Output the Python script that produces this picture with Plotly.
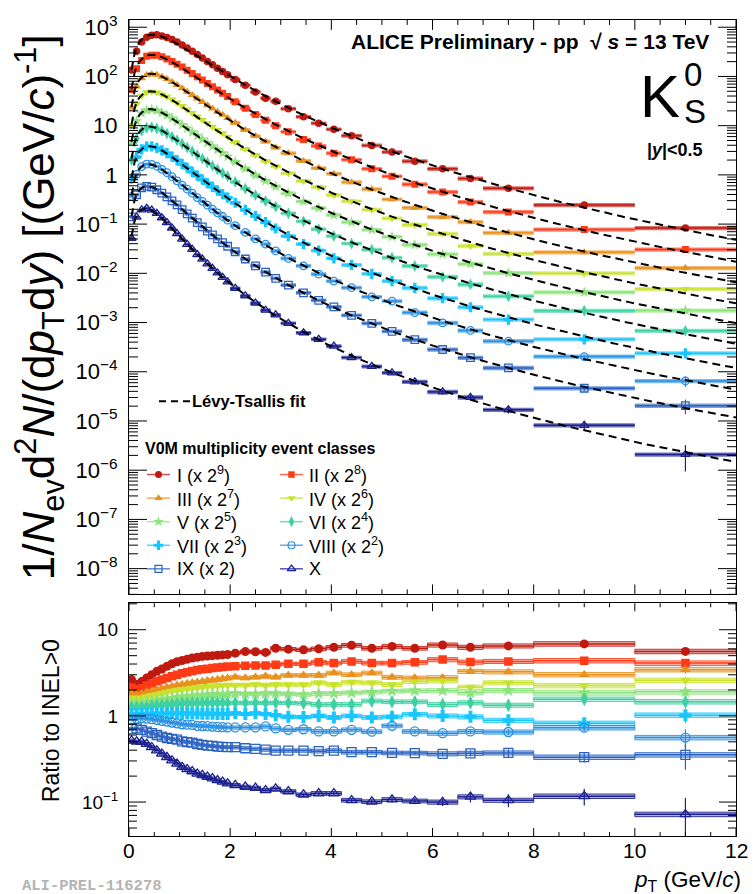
import numpy as np
import plotly.graph_objects as go

# ---------------- data ----------------
pt_edges = [0.0, 0.1, 0.2, 0.3, 0.4, 0.5, 0.6, 0.7, 0.8, 0.9, 1.0, 1.1, 1.2, 1.3, 1.4,
            1.5, 1.6, 1.7, 1.8, 1.9, 2.0, 2.2, 2.4, 2.6, 2.8, 3.0, 3.3, 3.6, 3.9, 4.2,
            4.6, 5.0, 5.4, 5.9, 6.5, 7.0, 8.0, 10.0, 12.0]

# INEL>0 reference spectrum, 1/Nev d2N/(dpT dy)  [(GeV/c)^-1]
inel_ref = [0.100, 0.276, 0.393, 0.445, 0.446, 0.416, 0.371, 0.322, 0.274, 0.231,
            0.194, 0.162, 0.135, 0.113, 0.0949, 0.0797, 0.0672, 0.0568, 0.0482, 0.0410,
            0.0317, 0.0232, 0.0171, 0.0130, 0.00998, 0.00728, 0.00508, 0.00363, 0.00263,
            0.00185, 0.00127, 0.000890, 0.000605, 0.000390, 0.000262, 0.000161, 6.96e-5, 2.90e-5]

# ratios of each V0M class to INEL>0
ratio_I = [2.64, 2.31, 2.50, 2.76, 3.01, 3.29, 3.50, 3.76, 4.03, 4.25, 4.40, 4.55, 4.70,
           4.80, 4.90, 4.95, 5.00, 5.05, 5.10, 5.15, 5.35, 5.58, 5.55, 5.45, 6.10, 5.95,
           5.84, 6.00, 6.26, 6.60, 6.10, 6.40, 6.10, 6.65, 6.26, 6.49, 6.85, 5.60]
ratio_II = [2.12, 2.03, 2.10, 2.25, 2.37, 2.53, 2.64, 2.76, 2.88, 3.00, 3.12, 3.22, 3.32,
            3.40, 3.47, 3.53, 3.60, 3.65, 3.70, 3.74, 3.76, 3.82, 3.85, 3.85, 3.92, 4.03,
            4.03, 4.18, 4.10, 4.29, 4.10, 4.10, 4.18, 4.50, 4.21, 4.29, 4.37, 4.10]
ratio_III = [1.82, 1.77, 1.82, 1.89, 1.94, 2.03, 2.08, 2.15, 2.20, 2.27, 2.31, 2.37, 2.42,
             2.46, 2.50, 2.55, 2.59, 2.64, 2.69, 2.74, 2.81, 2.76, 2.81, 2.88, 2.81, 2.96,
             2.96, 2.96, 3.15, 3.01, 3.15, 2.81, 2.76, 2.78, 3.29, 3.25, 3.01, 3.44]
ratio_IV = [1.62, 1.58, 1.62, 1.67, 1.73, 1.77, 1.82, 1.89, 1.94, 1.99, 2.03, 2.06, 2.10,
            2.13, 2.17, 2.20, 2.22, 2.25, 2.27, 2.28, 2.27, 2.27, 2.31, 2.27, 2.31, 2.31,
            2.31, 2.42, 2.31, 2.46, 2.42, 2.31, 2.50, 2.55, 2.15, 2.42, 2.25, 2.59]
ratio_V = [1.42, 1.40, 1.42, 1.45, 1.49, 1.53, 1.55, 1.58, 1.61, 1.64, 1.67, 1.70, 1.71,
           1.73, 1.74, 1.76, 1.77, 1.79, 1.79, 1.80, 1.82, 1.80, 1.80, 1.82, 1.82, 1.80,
           1.77, 1.82, 1.82, 1.85, 1.89, 1.94, 1.96, 1.96, 1.85, 1.97, 1.85, 1.90]
ratio_VI = [1.25, 1.25, 1.26, 1.27, 1.30, 1.32, 1.33, 1.35, 1.36, 1.37, 1.39, 1.39, 1.40,
            1.40, 1.41, 1.41, 1.42, 1.42, 1.42, 1.42, 1.42, 1.42, 1.42, 1.42, 1.42, 1.42,
            1.40, 1.36, 1.36, 1.36, 1.49, 1.46, 1.46, 1.36, 1.42, 1.33, 1.56, 1.46]
ratio_VII = [1.045, 1.045, 1.05, 1.06, 1.06, 1.065, 1.065, 1.07, 1.07, 1.07, 1.07, 1.07,
             1.065, 1.065, 1.06, 1.06, 1.06, 1.055, 1.05, 1.05, 1.07, 1.05, 1.07, 1.05,
             1.02, 0.98, 0.97, 1.00, 0.96, 1.00, 0.96, 0.975, 1.045, 1.00, 0.975, 0.89,
             0.82, 1.02]
ratio_VIII = [0.916, 0.932, 0.940, 0.932, 0.916, 0.900, 0.876, 0.860, 0.838, 0.820, 0.800,
              0.790, 0.786, 0.767, 0.763, 0.760, 0.752, 0.745, 0.740, 0.734, 0.734, 0.734,
              0.734, 0.754, 0.715, 0.690, 0.700, 0.661, 0.661, 0.690, 0.656, 0.767, 0.660,
              0.630, 0.660, 0.650, 0.730, 0.560]
ratio_IX = [0.703, 0.715, 0.690, 0.656, 0.632, 0.600, 0.576, 0.554, 0.540, 0.530, 0.507,
            0.497, 0.490, 0.472, 0.462, 0.452, 0.448, 0.440, 0.436, 0.433, 0.433, 0.421,
            0.415, 0.407, 0.396, 0.396, 0.396, 0.390, 0.396, 0.379, 0.379, 0.372, 0.370,
            0.363, 0.368, 0.372, 0.332, 0.353]
ratio_X = [0.516, 0.503, 0.497, 0.472, 0.433, 0.396, 0.363, 0.332, 0.304, 0.278, 0.255,
           0.240, 0.227, 0.213, 0.205, 0.196, 0.188, 0.179, 0.172, 0.164, 0.157, 0.150,
           0.146, 0.137, 0.143, 0.133, 0.122, 0.126, 0.126, 0.105, 0.101, 0.107, 0.103,
           0.100, 0.115, 0.105, 0.117, 0.072]

ratios = [ratio_I, ratio_II, ratio_III, ratio_IV, ratio_V,
          ratio_VI, ratio_VII, ratio_VIII, ratio_IX, ratio_X]
class_names = ["I", "II", "III", "IV", "V", "VI", "VII", "VIII", "IX", "X"]
scale_exp = [9, 8, 7, 6, 5, 4, 3, 2, 1, 0]

# relative statistical uncertainty (lowest class) and class factors
stat_rel_X = [0.012, 0.010, 0.010, 0.010, 0.010, 0.010, 0.010, 0.010, 0.011, 0.011,
              0.012, 0.012, 0.013, 0.014, 0.015, 0.016, 0.017, 0.018, 0.019, 0.020,
              0.020, 0.022, 0.025, 0.028, 0.031, 0.032, 0.036, 0.041, 0.047, 0.050,
              0.060, 0.075, 0.085, 0.100, 0.140, 0.170, 0.220, 0.550]
stat_class_factor = [0.18, 0.17, 0.19, 0.21, 0.24, 0.28, 0.35, 0.45, 0.60, 1.00]
# relative systematic uncertainties (box half heights)
sys_spec_rel = [0.08, 0.08, 0.08, 0.08, 0.08, 0.08, 0.08, 0.08, 0.08, 0.08,
                0.08, 0.08, 0.08, 0.08, 0.08, 0.08, 0.08, 0.08, 0.08, 0.08,
                0.09, 0.09, 0.09, 0.09, 0.09, 0.09, 0.09, 0.09, 0.09, 0.09,
                0.09, 0.09, 0.10, 0.10, 0.10, 0.10, 0.10, 0.10]
sys_ratio_rel = [0.04, 0.04, 0.04, 0.04, 0.04, 0.04, 0.04, 0.04, 0.04, 0.04,
                 0.04, 0.04, 0.04, 0.04, 0.04, 0.04, 0.04, 0.04, 0.04, 0.04,
                 0.045, 0.045, 0.045, 0.045, 0.045, 0.045, 0.045, 0.05, 0.05, 0.05,
                 0.05, 0.05, 0.05, 0.055, 0.055, 0.055, 0.06, 0.06]

colors = ["#bf1a10", "#ff3a16", "#e8911e", "#c9e22c", "#8ee27c",
          "#3ed0a2", "#18c6ff", "#2b8fe0", "#2a62c2", "#1b1f8f"]
symbols = ["circle", "square", "triangle-up", "triangle-down", "star",
           "diamond-tall", "cross", "circle-open", "square-open", "triangle-up-open"]
sizes = [7.5, 7, 8, 8, 8.5, 8.5, 8.5, 7.5, 7.5, 8]

FONT = "Liberation Sans, Arial, Helvetica, sans-serif"
M_K0S = 0.497611


def rgba(h, a):
    h = h.lstrip('#')
    return "rgba(%d,%d,%d,%.3f)" % (int(h[0:2], 16), int(h[2:4], 16), int(h[4:6], 16), a)


def box_path(xlo, xhi, ylo, yhi):
    xs, ys = [], []
    for a, b, c, d in zip(xlo, xhi, ylo, yhi):
        xs += [a, b, b, a, a, None]
        ys += [c, c, d, d, c, None]
    return xs, ys


lo = np.array(pt_edges[:-1])
hi = np.array(pt_edges[1:])
ctr = 0.5 * (lo + hi)
hw = 0.5 * (hi - lo)
ref = np.array(inel_ref)
srel = np.array(stat_rel_X)
sys_s = np.array(sys_spec_rel)
sys_r = np.array(sys_ratio_rel)

# ---------- Levy-Tsallis fit (grid search on the plotted spectra) ----------
xk = np.sqrt(ctr ** 2 + M_K0S ** 2) - M_K0S
n_grid = np.arange(4.0, 14.0, 0.05)
c_grid = np.arange(0.10, 0.45, 0.002)
NN, CC = np.meshgrid(n_grid, c_grid, indexing='ij')
logshape = np.log(ctr)[None, None, :] - NN[..., None] * np.log1p(
    xk[None, None, :] / (NN * CC)[..., None])


def levy_fit(y):
    d = np.log(y)[None, None, :] - logshape
    la = d.mean(-1)
    res = ((d - la[..., None]) ** 2).sum(-1)
    i, j = np.unravel_index(np.argmin(res), res.shape)
    return la[i, j], n_grid[i], c_grid[j]


fig = go.Figure()

spectra = []
for k in range(10):
    r = np.array(ratios[k])
    spectra.append(r * ref * 2.0 ** scale_exp[k])

# --- top panel boxes
for k in range(10):
    s = spectra[k]
    bx, by = box_path(lo, hi, s * (1 - sys_s), s * (1 + sys_s))
    fig.add_trace(go.Scatter(x=bx, y=by, mode='lines', fill='toself',
                             fillcolor=rgba(colors[k], 0.62), line=dict(width=0),
                             xaxis='x', yaxis='y', hoverinfo='skip', showlegend=False))
# --- top panel points
for k in range(10):
    s = spectra[k]
    open_m = symbols[k].endswith('open')
    fig.add_trace(go.Scatter(
        x=ctr, y=s, mode='markers', xaxis='x', yaxis='y', showlegend=False,
        marker=dict(symbol=symbols[k], size=sizes[k], color=colors[k],
                    line=dict(width=1.3 if open_m else 0, color=colors[k])),
        error_x=dict(type='data', array=hw, symmetric=True, width=0, thickness=1.5,
                     color=colors[k]),
        error_y=dict(type='data', array=s * srel * stat_class_factor[k], width=0,
                     thickness=1.2, color=colors[k])))
# --- fits
ptf = np.linspace(0.05, 12.0, 600)
xf = np.sqrt(ptf ** 2 + M_K0S ** 2) - M_K0S
for k in range(10):
    la, n, c = levy_fit(spectra[k])
    yf = np.exp(la) * ptf * (1 + xf / (n * c)) ** (-n)
    fig.add_trace(go.Scatter(x=ptf, y=yf, mode='lines', xaxis='x', yaxis='y',
                             line=dict(color='black', width=2, dash='8px,5px'),
                             hoverinfo='skip', showlegend=False))

# --- bottom panel boxes
for k in range(10):
    r = np.array(ratios[k])
    bx, by = box_path(lo, hi, r * (1 - sys_r), r * (1 + sys_r))
    fig.add_trace(go.Scatter(x=bx, y=by, mode='lines', fill='toself',
                             fillcolor=rgba(colors[k], 0.35),
                             line=dict(width=1, color=rgba(colors[k], 0.85)),
                             xaxis='x2', yaxis='y2', hoverinfo='skip', showlegend=False))
for k in range(10):
    r = np.array(ratios[k])
    open_m = symbols[k].endswith('open')
    fig.add_trace(go.Scatter(
        x=ctr, y=r, mode='markers', xaxis='x2', yaxis='y2', showlegend=False,
        marker=dict(symbol=symbols[k], size=sizes[k] + 1.5, color=colors[k],
                    line=dict(width=1.3 if open_m else 0, color=colors[k])),
        error_x=dict(type='data', array=hw, symmetric=True, width=0, thickness=1.5,
                     color=colors[k]),
        error_y=dict(type='data', array=r * srel * stat_class_factor[k], width=0,
                     thickness=1.2, color=colors[k])))

# --- legend samples on a pixel-coordinate overlay subplot (transparent)
L, T, W, H = 129, 12, 607, 824
legend_rows_y = [471.0, 494.8, 518.6, 542.4, 566.2]
fig.add_trace(go.Scatter(x=[159, 190], y=[397, 397], mode='lines', xaxis='x3', yaxis='y3',
                         line=dict(color='black', width=2, dash='7px,5px'),
                         hoverinfo='skip', showlegend=False))
for k in range(10):
    row, col = k // 2, k % 2
    yv = legend_rows_y[row]
    x0, x1, xm = (147, 170, 158.5) if col == 0 else (280, 303, 291.5)
    fig.add_trace(go.Scatter(x=[x0, x1], y=[yv, yv], mode='lines', xaxis='x3', yaxis='y3',
                             line=dict(color=rgba(colors[k], 0.75), width=1.5),
                             hoverinfo='skip', showlegend=False))
    open_m = symbols[k].endswith('open')
    fig.add_trace(go.Scatter(x=[xm], y=[yv], mode='markers', xaxis='x3', yaxis='y3',
                             marker=dict(symbol=symbols[k], size=sizes[k] - 0.5,
                                         color=colors[k],
                                         line=dict(width=1.2 if open_m else 0,
                                                   color=colors[k])),
                             hoverinfo='skip', showlegend=False))

# ---------------- annotations (pixel -> paper) ----------------


def P(px, py):
    return (px - L) / W, (T + H - py) / H


ann = []


def txt(px, py, s, size, xanchor='left', yanchor='middle', color='black',
        family=FONT, angle=0, tight=False):
    x, y = P(px, py)
    d = dict(xref='paper', yref='paper', x=x, y=y, text=s, showarrow=False,
             xanchor=xanchor, yanchor=yanchor, textangle=angle,
             font=dict(size=size, family=family, color=color))
    if tight:
        d.update(borderpad=0, borderwidth=0)
    ann.append(d)


txt(709, 34, "<b>ALICE Preliminary - pp  √ <i>s</i> = 13 TeV</b>", 21, xanchor='right',
    tight=True)
txt(640, 89, "K", 60, tight=True)
txt(684, 86, "0", 33, yanchor='bottom', tight=True)
txt(684, 86, "S", 33, yanchor='top', tight=True)
txt(705, 143, "<b>|<i>y</i>|&lt;0.5</b>", 18, xanchor='right')
txt(190, 397, "<b>Lévy-Tsallis fit</b>", 16.5)
txt(143, 445, "<b>V0M multiplicity event classes</b>", 16)
for k in range(10):
    row, col = k // 2, k % 2
    e = scale_exp[k]
    if e > 1:
        lab = "%s (x 2<sup>%d</sup>)" % (class_names[k], e)
    elif e == 1:
        lab = "%s (x 2)" % class_names[k]
    else:
        lab = class_names[k]
    txt(175 if col == 0 else 307, legend_rows_y[row], lab, 18)

txt(39, 302, "1/<i>N</i><sub>ev</sub>d<sup>2</sup><i>N</i>/(d<i>p</i><sub>T</sub>d<i>y</i>) "
    "[(GeV/<i>c</i>)<sup>-1</sup>]", 44, xanchor='center', angle=-90)
txt(51, 720, "Ratio to INEL&gt;0", 23, xanchor='center', angle=-90)
txt(743, 881, "<i>p</i><sub>T</sub> (GeV/<i>c</i>)", 22.5, xanchor='right')
txt(20, 886, "<b>ALI-PREL-116278</b>", 15.5, color='#b4b4b4',
    family="Liberation Mono, DejaVu Sans Mono, monospace")

# x tick labels of the ratio panel
x_major = [0, 2, 4, 6, 8, 10, 12]
for v in x_major:
    txt(L + v / 12.0 * W, 851, str(v), 21, xanchor='center')

# ---------------- axes geometry ----------------
YB_TOP = (T + H - 592) / H          # bottom of top panel (paper)
YT_BOT = (T + H - 601) / H          # top of bottom panel (paper)
top_rng = [-8.523, 3.147]
bot_rng = [-1.394, 1.307]


def y_top_paper(v):
    return YB_TOP + (np.log10(v) - top_rng[0]) / (top_rng[1] - top_rng[0]) * (1 - YB_TOP)


def y_bot_paper(v):
    return (np.log10(v) - bot_rng[0]) / (bot_rng[1] - bot_rng[0]) * YT_BOT


# tick marks drawn as one path (inward, all four sides of both panels)
segs = []
x_minor = [v * 0.5 for v in range(0, 25) if v % 4 != 0]
for panel in ("top", "bot"):
    ylo, yhi = (YB_TOP, 1.0) if panel == "top" else (0.0, YT_BOT)
    lmaj, lmin = (10, 5) if panel == "top" else (8, 4)
    for v in x_major + x_minor:
        ln = (lmaj if v in x_major else lmin) / H
        xp = v / 12.0
        segs.append((xp, ylo, xp, ylo + ln))
        segs.append((xp, yhi, xp, yhi - ln))

top_major = [10.0 ** e for e in range(-8, 4)]
top_minor = [m * 10.0 ** e for e in range(-9, 4) for m in range(2, 10)]
bot_major = [0.1, 1.0, 10.0]
bot_minor = [m * 10.0 ** e for e in range(-2, 2) for m in range(2, 10)]
for vals, fmap, rng, lpx in ((top_major, y_top_paper, top_rng, 18),
                             (top_minor, y_top_paper, top_rng, 9),
                             (bot_major, y_bot_paper, bot_rng, 17),
                             (bot_minor, y_bot_paper, bot_rng, 8)):
    for v in vals:
        if rng[0] < np.log10(v) < rng[1]:
            yp = fmap(v)
            ln = lpx / W
            segs.append((0.0, yp, ln, yp))
            segs.append((1.0, yp, 1.0 - ln, yp))

path = " ".join("M%.5f,%.5f L%.5f,%.5f" % s for s in segs)
shapes = [dict(type='path', xref='paper', yref='paper', path=path,
               line=dict(color='black', width=1), layer='above')]

ytop_text = ["10<sup>−%d</sup>" % (-e) for e in range(-8, 0)] + ["1", "10", "10<sup>2</sup>",
                                                                 "10<sup>3</sup>"]
common = dict(showline=True, linecolor='black', linewidth=1, mirror=True,
              ticks='', showgrid=False, zeroline=False)

fig.update_layout(
    width=753, height=894,
    margin=dict(l=L, r=753 - L - W, t=T, b=894 - T - H),
    paper_bgcolor='white', plot_bgcolor='rgba(0,0,0,0)',
    showlegend=False,
    font=dict(family=FONT, color='black'),
    annotations=ann, shapes=shapes,
    xaxis=dict(domain=[0, 1], anchor='y', range=[0, 12],
               showticklabels=False, **common),
    yaxis=dict(domain=[YB_TOP, 1.0], anchor='x', type='log', range=top_rng,
               tickvals=top_major, ticktext=ytop_text,
               tickfont=dict(size=22, family=FONT), ticklabelstandoff=6, **common),
    xaxis2=dict(domain=[0, 1], anchor='y2', range=[0, 12],
                showticklabels=False, **common),
    yaxis2=dict(domain=[0.0, YT_BOT], anchor='x2', type='log', range=bot_rng,
                tickvals=bot_major, ticktext=["10<sup>−1</sup>", "1", "10"],
                tickfont=dict(size=19, family=FONT), ticklabelstandoff=6, **common),
    xaxis3=dict(domain=[0, 1], anchor='y3', range=[L, L + W], visible=False,
                showticklabels=False, fixedrange=True),
    yaxis3=dict(domain=[0, 1], anchor='x3', range=[T + H, T], visible=False,
                showticklabels=False, fixedrange=True),
)

fig.write_html("out.html",
               config={'displayModeBar': False, 'staticPlot': True},
               post_script="document.body.style.margin='0px';"
                           "document.body.style.overflow='hidden';")
